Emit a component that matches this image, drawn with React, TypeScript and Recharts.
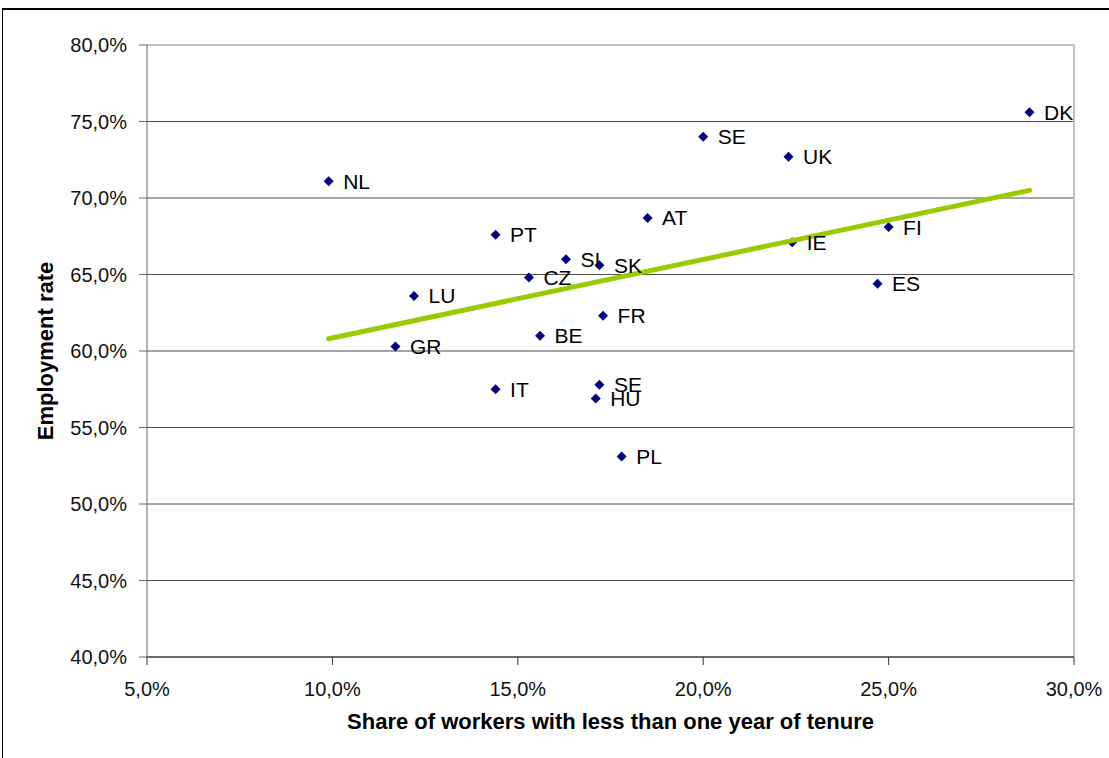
import {
    ScatterChart,
    Scatter,
    XAxis,
    YAxis,
    CartesianGrid,
    ReferenceLine,
    LabelList,
} from "recharts";

const countries = ["NL", "SE", "DK", "UK", "AT", "PT", "FI", "IE", "SI", "SK", "CZ", "LU", "ES", "FR", "BE", "GR", "IT", "SE", "HU", "PL"];
const tenureShare = [9.9, 20.0, 28.8, 22.3, 18.5, 14.4, 25.0, 22.4, 16.3, 17.2, 15.3, 12.2, 24.7, 17.3, 15.6, 11.7, 14.4, 17.2, 17.1, 17.8];
const employmentRate = [71.1, 74.0, 75.6, 72.7, 68.7, 67.6, 68.1, 67.1, 66.0, 65.6, 64.8, 63.6, 64.4, 62.3, 61.0, 60.3, 57.5, 57.8, 56.9, 53.1];

const trendX = [9.9, 28.8];
const trendY = [60.8, 70.5];

const xTicks = [5, 10, 15, 20, 25, 30];
const yTicks = [40, 45, 50, 55, 60, 65, 70, 75, 80];

const points = countries.map((name, i) => ({
    name,
    x: tenureShare[i],
    y: employmentRate[i],
}));

const trend = trendX.map((x, i) => ({ x, y: trendY[i] }));

const FONT = "'Liberation Sans', Arial, sans-serif";

function formatPct(value: number) {
    return value.toFixed(1).replace(".", ",") + "%";
}

function Diamond(props: any) {
    const { cx, cy } = props;
    if (cx == null || cy == null) return null;
    const r = 5;
    return (
        <polygon
            points={`${cx},${cy - r} ${cx + r},${cy} ${cx},${cy + r} ${cx - r},${cy}`}
            fill="#000080"
        />
    );
}

function Nothing() {
    return <g />;
}

export default function App() {
    return (
        <div
            style={{
                position: "absolute",
                left: 0,
                top: 0,
                width: 1109,
                height: 758,
                overflow: "hidden",
                background: "#ffffff",
            }}
        >
            <div
                style={{
                    position: "absolute",
                    left: 2,
                    top: 8,
                    width: 1107,
                    height: 750,
                    borderTop: "2px solid #000",
                    borderLeft: "1px solid #000",
                    boxSizing: "border-box",
                }}
            />
            <div style={{ position: "absolute", left: 0, top: 0 }}>
                <ScatterChart
                    width={1109}
                    height={758}
                    margin={{ top: 45, right: 35, bottom: 41, left: 0 }}
                >
                    <CartesianGrid
                        horizontal={true}
                        vertical={false}
                        stroke="#4d4d4d"
                        strokeWidth={1}
                    />
                    <XAxis
                        type="number"
                        dataKey="x"
                        domain={[5, 30]}
                        ticks={xTicks}
                        tickFormatter={formatPct}
                        height={60}
                        tickSize={8}
                        tickMargin={17}
                        stroke="#333"
                        tick={{ fill: "#111", fontSize: 20, fontFamily: FONT }}
                        label={{
                            content: (props: any) => {
                                const vb = props.viewBox || {};
                                const cx = (vb.x ?? 147) + (vb.width ?? 927) / 2;
                                return (
                                    <text
                                        x={cx}
                                        y={729}
                                        textAnchor="middle"
                                        fontFamily={FONT}
                                        fontWeight="bold"
                                        fontSize={22}
                                        fill="#000"
                                    >
                                        Share of workers with less than one year of tenure
                                    </text>
                                );
                            },
                        }}
                    />
                    <YAxis
                        type="number"
                        dataKey="y"
                        domain={[40, 80]}
                        ticks={yTicks}
                        tickFormatter={formatPct}
                        width={147}
                        tickSize={8}
                        tickMargin={12}
                        stroke="#666"
                        tick={{ fill: "#111", fontSize: 20, fontFamily: FONT }}
                        label={{
                            content: (props: any) => {
                                const vb = props.viewBox || {};
                                const cy = (vb.y ?? 45) + (vb.height ?? 612) / 2;
                                return (
                                    <text
                                        x={53}
                                        y={cy}
                                        transform={`rotate(-90, 53, ${cy})`}
                                        textAnchor="middle"
                                        fontFamily={FONT}
                                        fontWeight="bold"
                                        fontSize={22}
                                        fill="#000"
                                    >
                                        Employment rate
                                    </text>
                                );
                            },
                        }}
                    />
                    <ReferenceLine y={80} stroke="#c0c0c0" strokeWidth={2} />
                    <ReferenceLine x={30} stroke="#c0c0c0" strokeWidth={2} />
                    <Scatter
                        data={points}
                        shape={<Diamond />}
                        isAnimationActive={false}
                    />
                    <Scatter
                        data={trend}
                        line={{ stroke: "#99cc00", strokeWidth: 5, strokeLinecap: "round" }}
                        lineType="joint"
                        shape={<Nothing />}
                        isAnimationActive={false}
                    />
                    <Scatter
                        data={points}
                        shape={<Nothing />}
                        isAnimationActive={false}
                    >
                        <LabelList
                            dataKey="name"
                            position="right"
                            offset={10}
                            fill="#000"
                            fontSize={21}
                            fontFamily={FONT}
                        />
                    </Scatter>
                </ScatterChart>
            </div>
        </div>
    );
}
